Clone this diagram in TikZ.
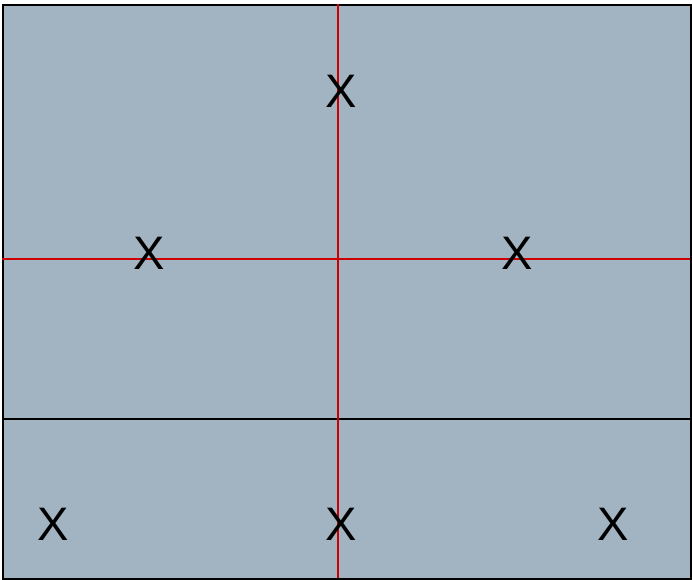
\documentclass[tikz,border=0pt]{standalone}
\usepackage{fontspec}
\setmainfont{Liberation Sans}
\definecolor{panel}{RGB}{162,179,194}
\definecolor{redline}{RGB}{204,0,0}
\tikzset{
  mark label/.style={inner sep=0pt, font=\fontsize{47}{47}\selectfont, anchor=center},
  frame line/.style={draw=black, line width=2pt},
  axis line/.style={draw=redline, line width=2pt}
}
\begin{document}
\begin{tikzpicture}[x=1pt,y=-1pt]
\useasboundingbox (0,0) rectangle (692,579);
\node[frame line, fill=panel, minimum width=688pt, minimum height=574pt, inner sep=0pt, anchor=north west] (box) at (2,4) {};
\coordinate (hl) at (2,419);
\coordinate (hr) at (690,419);
\draw[frame line] (hl) -- (hr);
\coordinate (vt) at (338,4);
\coordinate (vb) at (338,578);
\coordinate (ml) at (2,259);
\coordinate (mr) at (690,259);
\draw[axis line] (vt) -- (vb);
\draw[axis line] (ml) -- (mr);
\node[mark label] (x1) at (341,91) {X};
\node[mark label] (x2) at (149,253) {X};
\node[mark label] (x3) at (517,253) {X};
\node[mark label] (x4) at (53,524) {X};
\node[mark label] (x5) at (341,524) {X};
\node[mark label] (x6) at (613,524) {X};
\end{tikzpicture}
\end{document}
